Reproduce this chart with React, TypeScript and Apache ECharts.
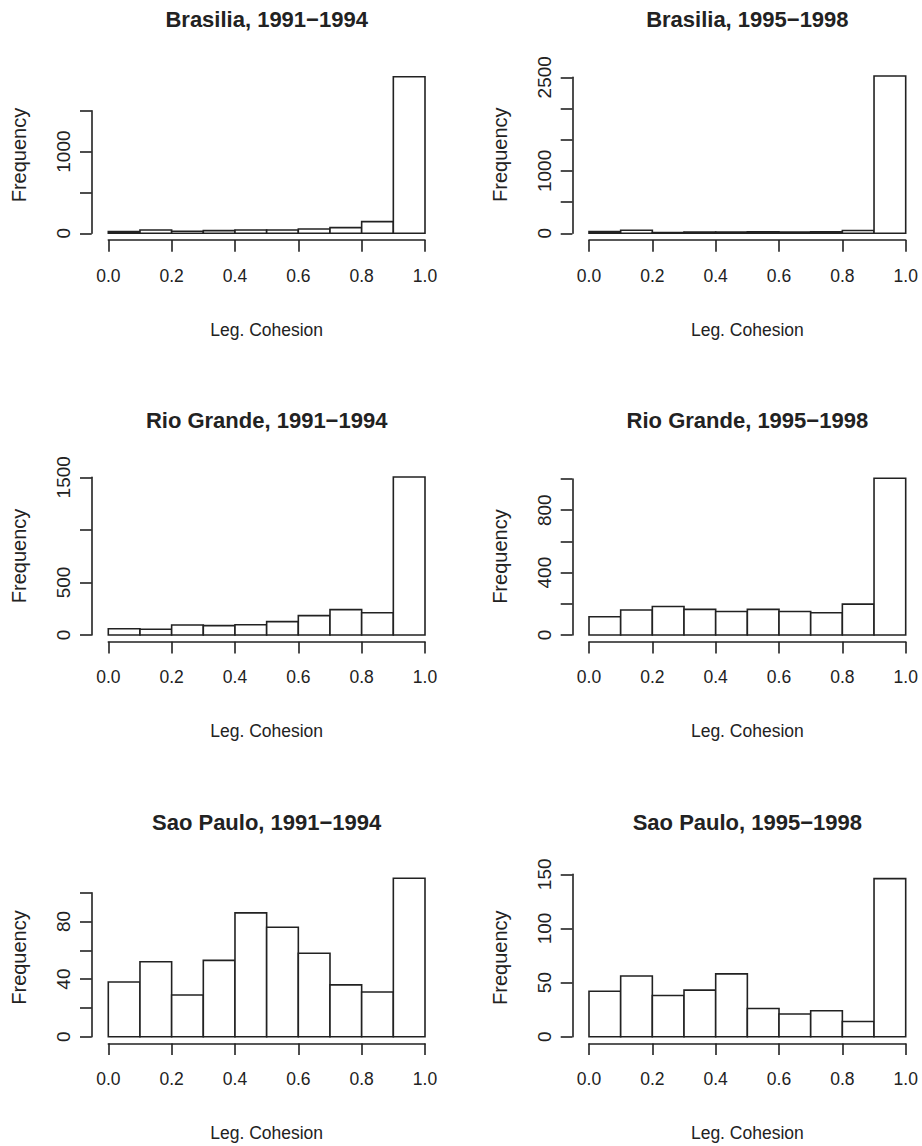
import React, { useEffect, useRef } from "react";
import * as echarts from "echarts";

// ---- data ----
const breaks = [0, 0.1, 0.2, 0.3, 0.4, 0.5, 0.6, 0.7, 0.8, 0.9, 1.0];
const titles = [
  "Brasilia, 1991−1994",
  "Brasilia, 1995−1998",
  "Rio Grande, 1991−1994",
  "Rio Grande, 1995−1998",
  "Sao Paulo, 1991−1994",
  "Sao Paulo, 1995−1998",
];
const brasilia9194 = [20, 41, 25, 33, 41, 41, 53, 69, 143, 1915];
const brasilia9598 = [27, 48, 11, 20, 20, 25, 22, 25, 45, 2520];
const rio9194 = [60, 54, 95, 89, 98, 127, 184, 241, 212, 1503];
const rio9598 = [117, 160, 183, 164, 151, 164, 151, 143, 198, 1005];
const sp9194 = [38, 52, 29, 53, 86, 76, 58, 36, 31, 110];
const sp9598 = [42, 56, 38, 43, 58, 26, 21, 24, 14, 146];
const panelCounts = [brasilia9194, brasilia9598, rio9194, rio9598, sp9194, sp9598];

const yTickMax = [1500, 2500, 1500, 1000, 100, 150];
const yTickStep = [500, 500, 500, 200, 20, 50];
const yLabelsShown = [
  [0, 1000],
  [0, 1000, 2500],
  [0, 500, 1500],
  [0, 400, 800],
  [0, 40, 80],
  [0, 50, 100, 150],
];
const xTickStep = 0.2;
const xLabel = "Leg. Cohesion";
const yLabel = "Frequency";

// ---- layout (pixels) ----
const colLeft = [108.3, 589];
const plotWidth = 316.7;
const yAxisOffset = 16.6;
const rowZero = [233.3, 635, 1036.7];
const topTickY = [110.7, 77.3, 477.3, 479, 892.7, 874.3];
const rowTitleTop = [8, 409.7, 811.4];
const yNameDist = 72.5;

const FONT = "'Liberation Sans', Arial, Helvetica, sans-serif";
const INK = "#222";

export default function App() {
  const ref = useRef<HTMLDivElement>(null);

  useEffect(() => {
    document.body.style.margin = "0";
    if (!ref.current) return;
    const chart = echarts.init(ref.current, undefined, { renderer: "svg" });

    const grids: any[] = [];
    const xAxes: any[] = [];
    const yAxes: any[] = [];
    const series: any[] = [];
    const titleList: any[] = [];

    for (let i = 0; i < 6; i++) {
      const col = i % 2;
      const row = Math.floor(i / 2);
      const zeroY = rowZero[row];
      const top = topTickY[i];
      grids.push({
        left: colLeft[col],
        top: top,
        width: plotWidth,
        height: zeroY - top,
        containLabel: false,
      });
      titleList.push({
        text: titles[i],
        left: colLeft[col] + plotWidth / 2,
        top: rowTitleTop[row],
        textAlign: "center",
        padding: 0,
        textStyle: { fontSize: 22, fontWeight: "bold", fontFamily: FONT, color: INK },
      });
      const shown = yLabelsShown[i];
      xAxes.push({
        gridIndex: i,
        type: "value",
        min: 0,
        max: 1,
        interval: xTickStep,
        offset: 6.7,
        axisLine: { show: true, onZero: false, lineStyle: { color: INK, width: 1.6 } },
        axisTick: { show: true, length: 11.7, lineStyle: { color: INK, width: 1.6 } },
        axisLabel: {
          fontSize: 17.5,
          fontFamily: FONT,
          color: INK,
          margin: 26.5,
          formatter: (v: number) => v.toFixed(1),
        },
        splitLine: { show: false },
        name: xLabel,
        nameLocation: "middle",
        nameGap: 80.5,
        nameTextStyle: { fontSize: 17.5, fontFamily: FONT, color: INK },
      });
      yAxes.push({
        gridIndex: i,
        type: "value",
        min: 0,
        max: yTickMax[i],
        interval: yTickStep[i],
        offset: yAxisOffset,
        axisLine: { show: true, onZero: false, lineStyle: { color: INK, width: 1.6 } },
        axisTick: { show: true, length: 11.7, lineStyle: { color: INK, width: 1.6 } },
        axisLabel: {
          rotate: 90,
          fontSize: 19,
          fontFamily: FONT,
          color: INK,
          margin: 18.5,
          formatter: (v: number) => (shown.indexOf(v) >= 0 ? String(v) : ""),
        },
        splitLine: { show: false },
      });
      const counts = panelCounts[i];
      series.push({
        type: "custom",
        xAxisIndex: i,
        yAxisIndex: i,
        clip: false,
        data: counts.map((c, k) => [breaks[k], breaks[k + 1], c]),
        encode: { x: [0, 1], y: 2 },
        renderItem: (_params: any, api: any) => {
          const p0 = api.coord([api.value(0), 0]);
          const p1 = api.coord([api.value(1), api.value(2)]);
          return {
            type: "rect",
            shape: { x: p0[0], y: p1[1], width: p1[0] - p0[0], height: p0[1] - p1[1] },
            style: { fill: "#ffffff", stroke: INK, lineWidth: 1.6 },
          };
        },
      });
    }

    chart.setOption({
      animation: false,
      backgroundColor: "#ffffff",
      title: titleList,
      grid: grids,
      xAxis: xAxes,
      yAxis: yAxes,
      series,
    });

    // "Frequency" labels centred on each panel's full plot region (0 .. max count)
    const graphics: any[] = [];
    for (let i = 0; i < 6; i++) {
      const col = i % 2;
      const maxCount = Math.max(...panelCounts[i]);
      const mid = chart.convertToPixel({ gridIndex: i } as any, [0, maxCount / 2]) as number[];
      graphics.push({
        type: "text",
        x: colLeft[col] - yAxisOffset - yNameDist,
        y: mid[1],
        rotation: Math.PI / 2,
        style: {
          text: yLabel,
          fontSize: 20,
          fontFamily: FONT,
          fill: INK,
          align: "center",
          verticalAlign: "middle",
        },
      });
    }
    chart.setOption({ graphic: graphics });

    return () => chart.dispose();
  }, []);

  return <div ref={ref} style={{ width: 922, height: 1146 }} />;
}
